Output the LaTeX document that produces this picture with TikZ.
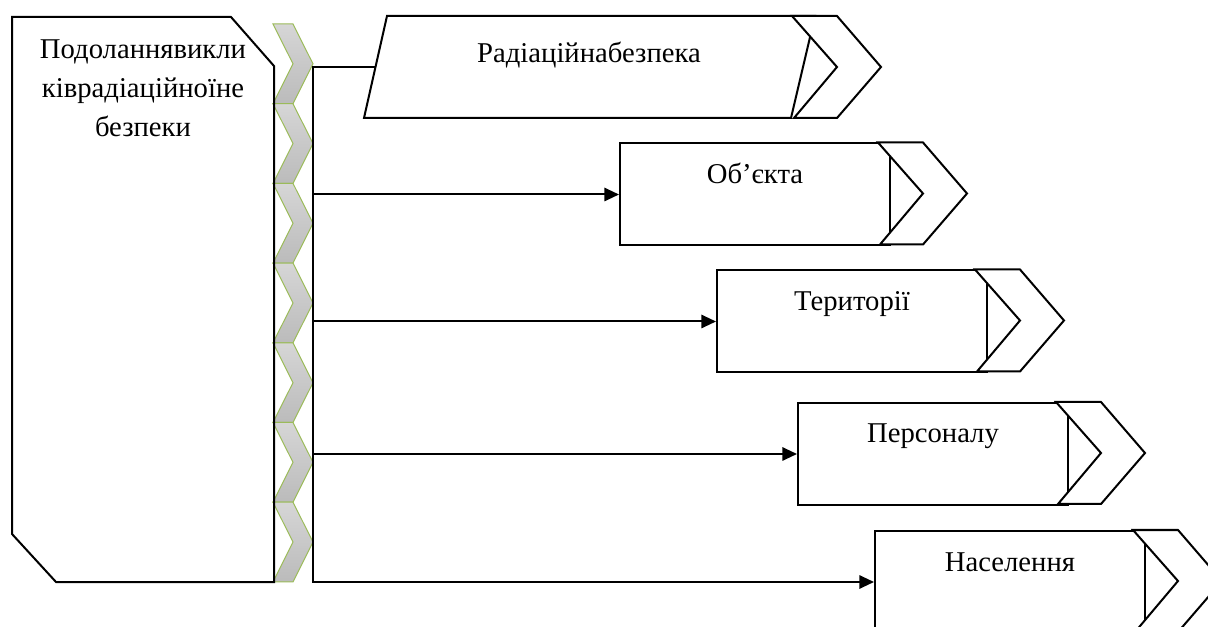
\documentclass[tikz,border=0pt]{standalone}
\usepackage{fontspec}
\setmainfont{Liberation Serif}
\usepackage{tikz}
\usetikzlibrary{positioning,arrows.meta}
\definecolor{chevlight}{HTML}{D6D6D6}
\definecolor{chevdark}{HTML}{BBBBBB}
\definecolor{chevgreen}{HTML}{9BBB59}

\begin{document}
\begin{tikzpicture}[x=0.75pt,y=-0.75pt,
  >={Triangle[length=11pt,width=10pt]},
  line width=1.5pt,
  tbox/.style={rectangle,draw,fill=white,minimum width=202.5pt,inner sep=0pt,
    text height=30pt,text depth=46.5pt,font=\fontsize{21.5}{26}\selectfont},
  ttext/.style={inner sep=0pt,font=\fontsize{21.5}{26}\selectfont},
  ltext/.style={inner sep=0pt,align=center,font=\fontsize{21.5}{29.3}\selectfont},
  lchev/.pic={\draw[line width=0.75pt,draw=chevgreen,top color=chevlight,bottom color=chevdark]
    (0,0) -- (20,0) -- (40,39.85) -- (20,79.7) -- (0,79.7) -- (20,39.85) -- cycle;},
  tail/.pic={\draw[fill=white] (-13,0) -- (32,0) -- (76,51) -- (32,102) -- (-11,102) -- (32,51) -- cycle;}]

  \useasboundingbox (0,0) rectangle (1208,627);
  \clip (0,0) rectangle (1208,627);

  % chevron column
  \pic at (273,24)    {lchev};
  \pic at (273,103.7) {lchev};
  \pic at (273,183.4) {lchev};
  \pic at (273,263.1) {lchev};
  \pic at (273,342.8) {lchev};
  \pic at (273,422.5) {lchev};
  \pic at (273,502.2) {lchev};

  % left block
  \draw (12,17) -- (231,17) -- (274,66) -- (274,582) -- (56,582) -- (12,534) -- cycle;
  \node[ltext,anchor=north] (podol) at (143,39) {Подоланнявикли\\ківрадіаційноїне\\безпеки};

  % first target (slanted)
  \draw[fill=white] (387,16) -- (815,16) -- (791,118) -- (364,118) -- cycle;
  \pic at (805,16) {tail};
  \coordinate (radin) at (375.4,67);
  \node[ttext,anchor=base] (rad) at (589,63) {Радіаційнабезпека};

  % other targets
  \node[tbox] (obj)  at (755,194.5) {Об’єкта};
  \pic at (obj.north east) {tail};
  \node[tbox] (ter)  at (852,321.5) {Території};
  \pic at (ter.north east) {tail};
  \node[tbox] (pers) at (933,454)   {Персоналу};
  \pic at (pers.north east) {tail};
  \node[tbox] (nas)  at (1010,582)  {Населення};
  \pic at (nas.north east) {tail};

  % trunk and arrows
  \coordinate (ttop) at (313,67);
  \coordinate (tbot) at (313,582);
  \draw[->] (radin) -- (ttop) -- (tbot) -- (nas.west);
  \draw[->] (ttop |- obj.west)  -- (obj.west);
  \draw[->] (ttop |- ter.west)  -- (ter.west);
  \draw[->] (ttop |- pers.west) -- (pers.west);
\end{tikzpicture}
\end{document}
